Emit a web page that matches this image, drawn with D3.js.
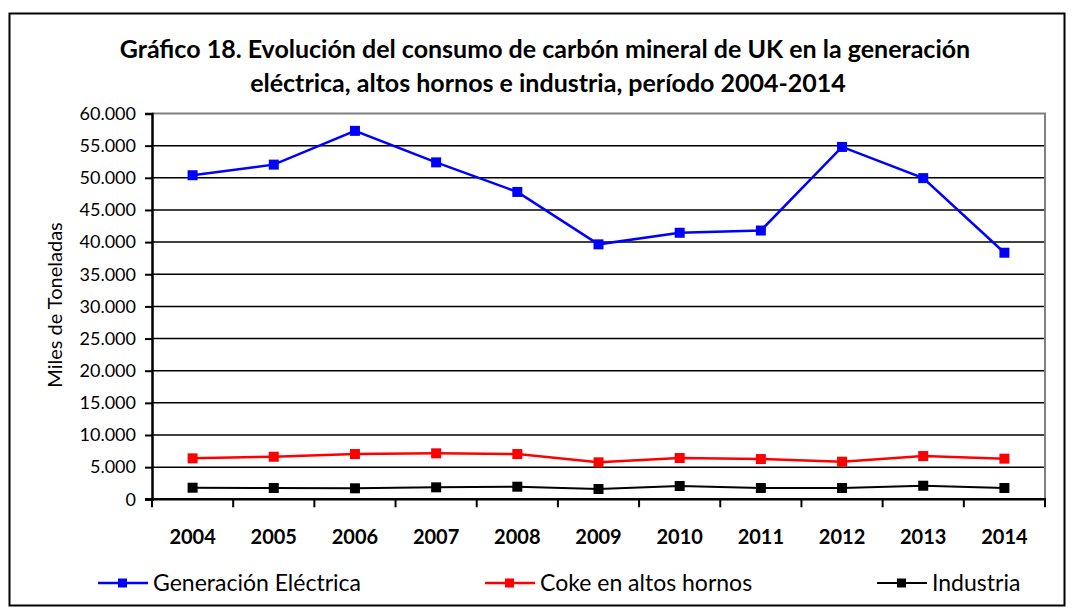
<!DOCTYPE html>
<html>
<head>
<meta charset="utf-8">
<script src="https://cdn.jsdelivr.net/npm/d3@7"></script>
<style>
  body { margin: 0; background: #fff; }
  svg text { font-family: Lato, "Open Sans", sans-serif; fill: #000; }
</style>
</head>
<body>
<div id="chart"></div>
<script>
// Data
const years = ["2004", "2005", "2006", "2007", "2008", "2009", "2010", "2011", "2012", "2013", "2014"];
const generacion = [50400, 52050, 57300, 52400, 47800, 39650, 41450, 41800, 54800, 49950, 38350];
const coke = [6370, 6620, 7040, 7150, 7040, 5750, 6420, 6260, 5850, 6730, 6320];
const industria = [1800, 1760, 1710, 1860, 1960, 1600, 2070, 1760, 1760, 2110, 1760];
const yTicks = [0, 5000, 10000, 15000, 20000, 25000, 30000, 35000, 40000, 45000, 50000, 55000, 60000];

const series = [
    { name: "Generación Eléctrica", values: generacion, color: "#0000ff", width: 2.5 },
    { name: "Coke en altos hornos", values: coke, color: "#ff0000", width: 2.5 },
    { name: "Industria", values: industria, color: "#000000", width: 2 }
];

const W = 1075, H = 616;
const plot = { left: 152, top: 113.5, right: 1045, bottom: 499.3 };

const svg = d3.select("#chart")
    .append("svg")
    .attr("width", W)
    .attr("height", H);

// Outer frame
svg.append("rect")
    .attr("x", 9.5).attr("y", 13.5)
    .attr("width", 1055).attr("height", 592)
    .attr("fill", "none")
    .attr("stroke", "#000")
    .attr("stroke-width", 2);

// Title
const title = svg.append("text")
    .attr("text-anchor", "middle")
    .attr("font-weight", "bold")
    .attr("font-size", 25);
title.append("tspan").attr("x", 545).attr("y", 58).text("Gráfico 18. Evolución del consumo de carbón mineral de UK en la generación");
title.append("tspan").attr("x", 548).attr("y", 91.5).text("eléctrica, altos hornos e industria, período 2004-2014");

// Scales
const x = d3.scaleBand()
    .domain(years)
    .range([plot.left, plot.right]);

const y = d3.scaleLinear()
    .domain([0, 60000])
    .range([plot.bottom, plot.top]);

// Gridlines
svg.append("g")
    .selectAll("line")
    .data(yTicks.filter(d => d > 0 && d < 60000))
    .join("line")
    .attr("x1", plot.left)
    .attr("x2", plot.right)
    .attr("y1", d => y(d))
    .attr("y2", d => y(d))
    .attr("stroke", "#000")
    .attr("stroke-width", 1.5);

// Plot border (top and right in gray)
svg.append("path")
    .attr("d", `M${plot.left},${y(60000)}H${plot.right}V${plot.bottom}`)
    .attr("fill", "none")
    .attr("stroke", "#808080")
    .attr("stroke-width", 2);

// Y axis
const yAxis = svg.append("g")
    .attr("transform", `translate(${plot.left},0)`)
    .call(d3.axisLeft(y)
        .tickValues(yTicks)
        .tickSize(7)
        .tickPadding(9)
        .tickFormat(d => d3.format(",")(d).replace(/,/g, ".")));
yAxis.select(".domain").attr("stroke", "#000").attr("stroke-width", 2.5);
yAxis.selectAll(".tick line").attr("stroke", "#000").attr("stroke-width", 2);
yAxis.selectAll("text").attr("font-size", 18).attr("font-family", "Lato, sans-serif").attr("fill", "#000");

// X axis: ticks at category boundaries
svg.append("g")
    .selectAll("line")
    .data(years.concat(["end"]))
    .join("line")
    .attr("x1", (d, i) => plot.left + i * x.step())
    .attr("x2", (d, i) => plot.left + i * x.step())
    .attr("y1", plot.bottom)
    .attr("y2", plot.bottom + 8)
    .attr("stroke", "#000")
    .attr("stroke-width", 2);

svg.append("line")
    .attr("x1", plot.left - 7).attr("x2", plot.right + 1)
    .attr("y1", plot.bottom).attr("y2", plot.bottom)
    .attr("stroke", "#000")
    .attr("stroke-width", 2.5);

svg.append("g")
    .selectAll("text")
    .data(years)
    .join("text")
    .attr("x", d => x(d) + x.bandwidth() / 2)
    .attr("y", 544)
    .attr("text-anchor", "middle")
    .attr("font-weight", "bold")
    .attr("font-size", 20)
    .text(d => d);

// Y axis label
svg.append("text")
    .attr("transform", `translate(62,305) rotate(-90)`)
    .attr("text-anchor", "middle")
    .attr("font-size", 20)
    .text("Miles de Toneladas");

// Lines and markers
const line = d3.line()
    .x((d, i) => x(years[i]) + x.bandwidth() / 2)
    .y(d => y(d));

const groups = svg.append("g")
    .selectAll("g")
    .data(series)
    .join("g");

groups.append("path")
    .attr("d", d => line(d.values))
    .attr("fill", "none")
    .attr("stroke", d => d.color)
    .attr("stroke-width", d => d.width);

groups.each(function(s) {
    d3.select(this).selectAll("rect")
        .data(s.values)
        .join("rect")
        .attr("x", (d, i) => x(years[i]) + x.bandwidth() / 2 - 5)
        .attr("y", d => y(d) - 5)
        .attr("width", 10)
        .attr("height", 10)
        .attr("fill", s.color);
});

// Legend
const legendX = [98, 485, 877];
const legend = svg.append("g")
    .selectAll("g")
    .data(series)
    .join("g")
    .attr("transform", (d, i) => `translate(${legendX[i]},583)`);

legend.append("line")
    .attr("x1", 0).attr("x2", 50)
    .attr("stroke", d => d.color)
    .attr("stroke-width", d => d.width);

legend.append("rect")
    .attr("x", 20).attr("y", -4.5)
    .attr("width", 9).attr("height", 9)
    .attr("fill", d => d.color);

legend.append("text")
    .attr("x", 55)
    .attr("dy", "0.35em")
    .attr("font-size", 23)
    .text(d => d.name);
</script>
</body>
</html>
